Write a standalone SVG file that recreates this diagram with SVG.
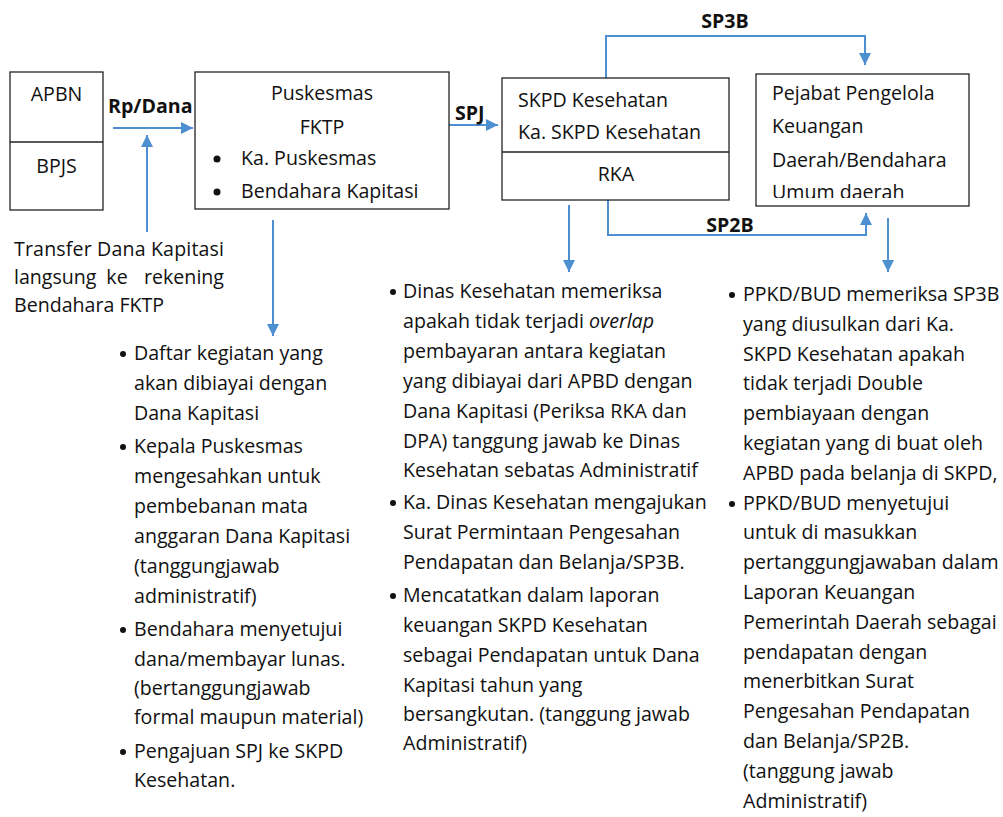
<svg xmlns="http://www.w3.org/2000/svg" width="1003" height="817" viewBox="0 0 1003 817">
<style>
text{font-family:"Open Sans","Noto Sans","Liberation Sans",sans-serif;font-size:19.6px;fill:#111}
.b{font-weight:bold}
.m{text-anchor:middle}
.e{text-anchor:end}
.box{fill:#fff;stroke:#222;stroke-width:1.3}
.con{fill:none;stroke:#4e8fd1;stroke-width:2}
.dot{fill:#111}
</style>
<defs>
<marker id="ah" markerUnits="userSpaceOnUse" markerWidth="12" markerHeight="12" refX="12" refY="6" orient="auto">
<path d="M0,0 L12,6 L0,12 z" fill="#4e8fd1"/>
</marker>
<clipPath id="pclip"><rect x="756" y="74" width="213" height="124"/></clipPath>
</defs>
<rect width="1003" height="817" fill="#fff"/>

<g id="connectors">
<line class="con" x1="113" y1="128" x2="193" y2="128" marker-end="url(#ah)"/>
<line class="con" x1="147" y1="232" x2="147" y2="135" marker-end="url(#ah)"/>
<line class="con" x1="449" y1="125" x2="498" y2="125" marker-end="url(#ah)"/>
<path class="con" d="M606,78 V36 H865 V65" marker-end="url(#ah)"/>
<path class="con" d="M608,200 V235 H866 V213" marker-end="url(#ah)"/>
<line class="con" x1="273" y1="220" x2="273" y2="336" marker-end="url(#ah)"/>
<line class="con" x1="569" y1="205" x2="569" y2="272" marker-end="url(#ah)"/>
<line class="con" x1="888" y1="218" x2="888" y2="272" marker-end="url(#ah)"/>
<text class="b" x="108" y="113">Rp/Dana</text>
<text class="b" x="455" y="120">SPJ</text>
<text class="b m" x="725" y="28">SP3B</text>
<text class="b m" x="730" y="232">SP2B</text>
</g>

<g id="apbn-bpjs">
<rect class="box" x="10" y="72" width="93" height="138"/>
<line x1="10" y1="142" x2="103" y2="142" stroke="#222" stroke-width="1.3"/>
<text class="m" x="56.5" y="101">APBN</text>
<text class="m" x="56.5" y="173">BPJS</text>
</g>

<g id="puskesmas">
<rect class="box" x="195" y="72" width="254" height="137"/>
<text class="m" x="322" y="100">Puskesmas</text>
<text class="m" x="322" y="134">FKTP</text>
<circle class="dot" cx="217" cy="159" r="3.5"/>
<text x="241" y="165">Ka. Puskesmas</text>
<circle class="dot" cx="217" cy="192" r="3.5"/>
<text x="241" y="198">Bendahara Kapitasi</text>
</g>

<g id="skpd">
<rect class="box" x="502" y="78" width="227" height="122"/>
<line x1="502" y1="152" x2="729" y2="152" stroke="#222" stroke-width="1.3"/>
<text x="518" y="107">SKPD Kesehatan</text>
<text x="518" y="139">Ka. SKPD Kesehatan</text>
<text class="m" x="616" y="181">RKA</text>
</g>

<g id="pejabat">
<rect class="box" x="756" y="74" width="213" height="132"/>
<g clip-path="url(#pclip)">
<text x="772" y="100">Pejabat Pengelola</text>
<text x="772" y="133">Keuangan</text>
<text x="772" y="167">Daerah/Bendahara</text>
<text x="772" y="199">Umum daerah</text>
</g>
</g>

<g id="transfer-note">
<text x="14" y="256" textLength="210" lengthAdjust="spacing">Transfer Dana Kapitasi</text>
<text x="14" y="284">langsung</text>
<text class="m" x="117" y="284">ke</text>
<text class="e" x="224" y="284">rekening</text>
<text x="14" y="312">Bendahara FKTP</text>
</g>

<g id="fktp-notes">
<circle class="dot" cx="123" cy="354" r="3"/>
<text x="134" y="360">Daftar kegiatan yang</text>
<text x="134" y="390">akan dibiayai dengan</text>
<text x="134" y="420">Dana Kapitasi</text>
<circle class="dot" cx="123" cy="447" r="3"/>
<text x="134" y="453">Kepala Puskesmas</text>
<text x="134" y="483">mengesahkan untuk</text>
<text x="134" y="513">pembebanan mata</text>
<text x="134" y="543">anggaran Dana Kapitasi</text>
<text x="134" y="573">(tanggungjawab</text>
<text x="134" y="603">administratif)</text>
<circle class="dot" cx="123" cy="630" r="3"/>
<text x="134" y="636">Bendahara menyetujui</text>
<text x="134" y="666">dana/membayar lunas.</text>
<text x="134" y="695">(bertanggungjawab</text>
<text x="134" y="724">formal maupun material)</text>
<circle class="dot" cx="123" cy="752" r="3"/>
<text x="134" y="758">Pengajuan SPJ ke SKPD</text>
<text x="134" y="787">Kesehatan.</text>
</g>

<g id="skpd-notes">
<circle class="dot" cx="393" cy="292" r="3"/>
<text x="403" y="298">Dinas Kesehatan memeriksa</text>
<text x="403" y="328">apakah tidak terjadi <tspan font-style="italic">overlap</tspan></text>
<text x="403" y="358">pembayaran antara kegiatan</text>
<text x="403" y="388">yang dibiayai dari APBD dengan</text>
<text x="403" y="418">Dana Kapitasi (Periksa RKA dan</text>
<text x="403" y="448">DPA) tanggung jawab ke Dinas</text>
<text x="403" y="477">Kesehatan sebatas Administratif</text>
<circle class="dot" cx="393" cy="503" r="3"/>
<text x="403" y="509">Ka. Dinas Kesehatan mengajukan</text>
<text x="403" y="539">Surat Permintaan Pengesahan</text>
<text x="403" y="569">Pendapatan dan Belanja/SP3B.</text>
<circle class="dot" cx="393" cy="596" r="3"/>
<text x="403" y="602">Mencatatkan dalam laporan</text>
<text x="403" y="632">keuangan SKPD Kesehatan</text>
<text x="403" y="662">sebagai Pendapatan untuk Dana</text>
<text x="403" y="692">Kapitasi tahun yang</text>
<text x="403" y="721">bersangkutan. (tanggung jawab</text>
<text x="403" y="750">Administratif)</text>
</g>

<g id="ppkd-notes">
<circle class="dot" cx="732" cy="295" r="3"/>
<text x="743" y="301">PPKD/BUD memeriksa SP3B</text>
<text x="743" y="331">yang diusulkan dari Ka.</text>
<text x="743" y="361">SKPD Kesehatan apakah</text>
<text x="743" y="390">tidak terjadi Double</text>
<text x="743" y="420">pembiayaan dengan</text>
<text x="743" y="450">kegiatan yang di buat oleh</text>
<text x="743" y="480">APBD pada belanja di SKPD,</text>
<circle class="dot" cx="732" cy="504" r="3"/>
<text x="743" y="510">PPKD/BUD menyetujui</text>
<text x="743" y="539">untuk di masukkan</text>
<text x="743" y="569">pertanggungjawaban dalam</text>
<text x="743" y="599">Laporan Keuangan</text>
<text x="743" y="629">Pemerintah Daerah sebagai</text>
<text x="743" y="659">pendapatan dengan</text>
<text x="743" y="688">menerbitkan Surat</text>
<text x="743" y="718">Pengesahan Pendapatan</text>
<text x="743" y="748">dan Belanja/SP2B.</text>
<text x="743" y="778">(tanggung jawab</text>
<text x="743" y="808">Administratif)</text>
</g>
</svg>
